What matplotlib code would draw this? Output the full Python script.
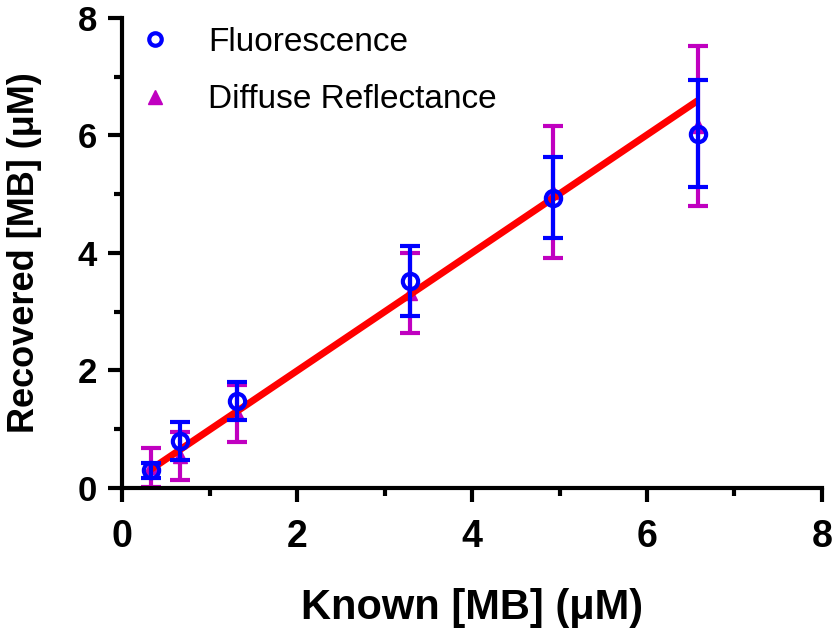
import numpy as np
import matplotlib.pyplot as plt

plt.rcParams['font.family'] = ['Liberation Sans', 'DejaVu Sans']

# Known concentrations (uM)
known = [0.33, 0.66, 1.31, 3.29, 4.93, 6.58]

# Fluorescence recovered values and errors
fluor = [0.30, 0.80, 1.48, 3.52, 4.94, 6.03]
fluor_err = [0.13, 0.33, 0.32, 0.59, 0.69, 0.91]

# Diffuse reflectance recovered values and errors
dr = [0.35, 0.54, 1.27, 3.32, 5.03, 6.16]
dr_err = [0.33, 0.41, 0.49, 0.68, 1.12, 1.36]

# linear fit line
fit_x = [0.33, 6.58]
fit_y = [0.32, 6.59]

fig = plt.figure(figsize=(8.37, 6.33), dpi=100)
ax = fig.add_axes([0.146, 0.229, 0.836, 0.743])

magenta = '#C000C0'
ax.errorbar(known, dr, yerr=dr_err, fmt='^', color=magenta, ms=10,
            elinewidth=3, capsize=7, capthick=3, zorder=2)
ax.plot(fit_x, fit_y, color='red', lw=5, solid_capstyle='butt', zorder=3)
ax.errorbar(known, fluor, yerr=fluor_err, fmt='o', color='blue', mfc='none', mew=3,
            ms=11, elinewidth=3, capsize=7, capthick=3, zorder=4)

ax.set_xlim(0, 8)
ax.set_ylim(0, 8)
ax.set_xticks([0, 2, 4, 6, 8])
ax.set_yticks([0, 2, 4, 6, 8])
ax.set_xticks([1, 3, 5, 7], minor=True)
ax.set_yticks([1, 3, 5, 7], minor=True)
for s in ['top', 'right']:
    ax.spines[s].set_visible(False)
for s in ['left', 'bottom']:
    ax.spines[s].set_linewidth(3)
ax.tick_params(which='major', width=3, length=10, labelsize=25, pad=8)
ax.tick_params(axis='x', which='major', labelsize=27, pad=12)
ax.tick_params(which='minor', width=3, length=6)
for lab in ax.get_xticklabels() + ax.get_yticklabels():
    lab.set_fontweight('bold')

ax.set_xlabel('Known [MB] (\u03bcM)', fontsize=30, fontweight='bold', labelpad=24)
ax.set_ylabel('Recovered [MB] (\u03bcM)', fontsize=26, fontweight='bold', labelpad=26)

handles = [plt.Line2D([], [], marker='o', ls='none', color='blue', mfc='none', mew=3, ms=9),
           plt.Line2D([], [], marker='^', ls='none', color=magenta, ms=10)]
ax.legend(handles, ['Fluorescence', 'Diffuse Reflectance'], loc='upper left',
          frameon=False, fontsize=24, handletextpad=0.9, handlelength=1.4,
          labelspacing=0.8, bbox_to_anchor=(-0.03, 1.045))

fig.savefig('out.png', dpi=100)
